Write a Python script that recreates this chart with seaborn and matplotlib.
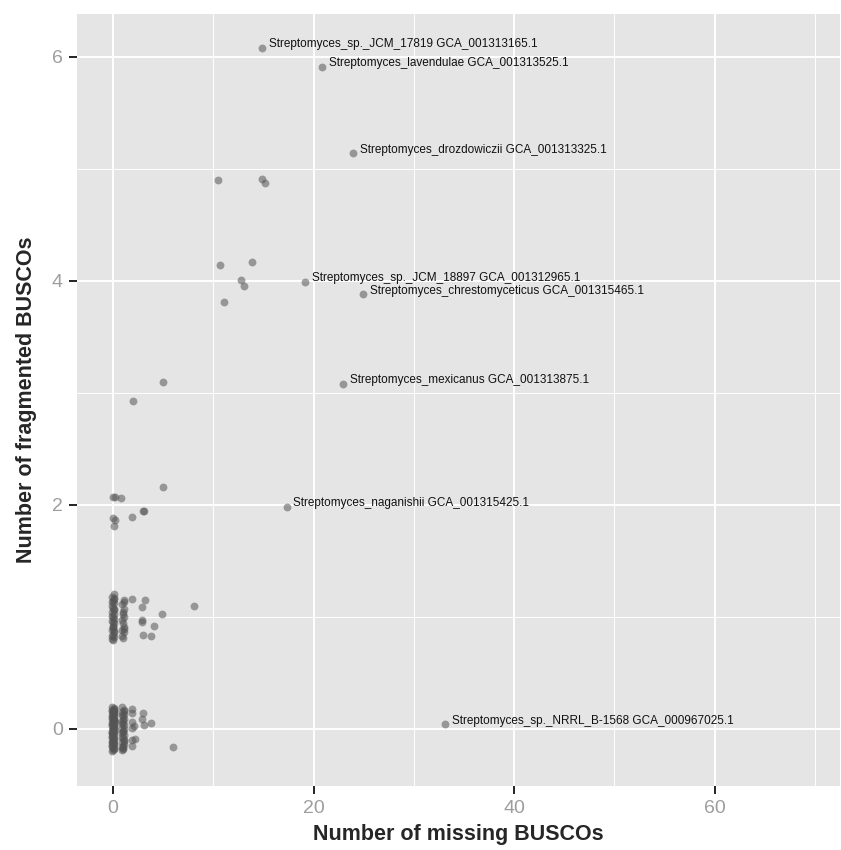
import pandas as pd
import matplotlib
matplotlib.use("Agg")
import matplotlib.pyplot as plt
import seaborn as sns
from matplotlib.ticker import MultipleLocator

# labelled genomes
lab_names = [
    "Streptomyces_sp._JCM_17819 GCA_001313165.1",
    "Streptomyces_lavendulae GCA_001313525.1",
    "Streptomyces_drozdowiczii GCA_001313325.1",
    "Streptomyces_sp._JCM_18897 GCA_001312965.1",
    "Streptomyces_chrestomyceticus GCA_001315465.1",
    "Streptomyces_mexicanus GCA_001313875.1",
    "Streptomyces_naganishii GCA_001315425.1",
    "Streptomyces_sp._NRRL_B-1568 GCA_000967025.1",
]
lab_missing = [14.9, 20.8, 23.9, 19.1, 24.9, 22.9, 17.3, 33.1]
lab_frag = [6.08, 5.91, 5.14, 3.99, 3.88, 3.08, 1.98, 0.04]

# scattered unlabelled genomes
other_missing = [10.5, 14.9, 15.2, 10.7, 13.9, 12.8, 13.1, 11.1, 5.0, 2.0,
                 0.0, 0.2, 0.8, 5.0, -0.05, 0.15, 0.05, 1.9, 3.0, 3.1,
                 1.9, 3.2, 2.9, 8.1, 4.9, 2.9, 2.9, 4.1, 3.0, 3.8,
                 1.9, 1.9, 1.9, 1.9, 1.9, 1.85, 2.1, 2.2, 3.0, 2.9, 3.1, 3.8, 6.0]
other_frag = [4.90, 4.91, 4.87, 4.14, 4.17, 4.01, 3.95, 3.81, 3.10, 2.93,
              2.07, 2.07, 2.06, 2.16, 1.88, 1.86, 1.81, 1.89, 1.94, 1.94,
              1.16, 1.15, 1.09, 1.10, 1.02, 0.97, 0.95, 0.92, 0.84, 0.83,
              0.18, 0.14, 0.06, 0.01, -0.10, -0.15, 0.02, -0.09, 0.14, 0.09, 0.03, 0.05, -0.16]

# dense jittered columns: 0 missing / 0 fragmented
c00_missing = [-0.12, 0.05, 0.10, -0.08, 0.14, -0.03, 0.08, -0.15, 0.02, 0.12,
               -0.10, 0.06, -0.05, 0.15, -0.13, 0.00, 0.09, -0.07, 0.13, -0.02,
               0.04, -0.14, 0.11, -0.06, 0.07, -0.11, 0.01, 0.14, -0.09, 0.03,
               -0.04, 0.12, -0.12, 0.06, 0.10, -0.01,
               0.09, -0.15, 0.03, 0.13, -0.06, 0.00, 0.11, -0.12, 0.07, -0.03,
               0.15, -0.09, 0.04, -0.14, 0.10, -0.01, 0.12, -0.07, 0.02, -0.11,
               0.08, -0.04, 0.14, -0.13]
c00_frag = [0.19, 0.18, 0.17, 0.16, 0.15, 0.14, 0.13, 0.12, 0.11, 0.10,
            0.09, 0.08, 0.07, 0.06, 0.05, 0.04, 0.03, 0.02, 0.01, 0.00,
            -0.01, -0.02, -0.03, -0.04, -0.06, -0.07, -0.08, -0.09, -0.11, -0.12,
            -0.13, -0.14, -0.15, -0.17, -0.18, -0.19,
            0.185, 0.165, 0.145, 0.125, 0.105, 0.085, 0.065, 0.045, 0.025, 0.005,
            -0.015, -0.035, -0.055, -0.075, -0.095, -0.115, -0.135, -0.155, -0.175, -0.195,
            0.155, -0.045, 0.075, -0.125]
# 1 missing / 0 fragmented
c10_missing = [0.92, 1.05, 0.85, 1.12, 0.95, 1.08, 0.88, 1.00, 1.14, 0.90,
               1.03, 0.86, 1.10, 0.97, 1.06, 0.89, 1.13, 0.94, 1.01, 0.87,
               1.09, 0.93, 1.04, 0.86, 1.11, 0.98, 0.91, 1.07, 0.95, 1.02]
c10_frag = [0.19, 0.17, 0.15, 0.13, 0.11, 0.09, 0.07, 0.05, 0.03, 0.01,
            -0.02, -0.04, -0.06, -0.08, -0.10, -0.12, -0.14, -0.16, -0.18, -0.19,
            0.16, 0.12, 0.08, 0.04, 0.00, -0.03, -0.07, -0.11, -0.15, -0.17]
# 0 missing / 1 fragmented
c01_missing = [0.05, -0.10, 0.12, -0.04, 0.08, -0.13, 0.02, 0.14, -0.07, 0.10,
               -0.01, 0.06, -0.12, 0.13, -0.05, 0.03, -0.09, 0.11, -0.02, 0.07,
               -0.14, 0.00, 0.09, -0.06, 0.13, -0.11, 0.04, -0.03, 0.10, -0.08]
c01_frag = [1.20, 1.18, 1.16, 1.14, 1.12, 1.10, 1.08, 1.06, 1.04, 1.02,
            1.00, 0.98, 0.96, 0.94, 0.92, 0.90, 0.88, 0.86, 0.84, 0.82,
            0.80, 0.79, 1.17, 1.13, 1.07, 1.01, 0.95, 0.91, 0.87, 0.83]
# 1 missing / 1 fragmented
c11_missing = [1.05, 0.92, 1.10, 0.96, 1.14, 0.88, 1.02, 1.08, 0.94, 1.12,
               0.90, 1.00, 1.06, 0.97, 1.09]
c11_frag = [1.15, 1.11, 1.07, 1.04, 1.00, 0.97, 0.94, 0.91, 0.88, 0.86,
            0.83, 0.81, 1.13, 1.02, 0.89]

df = pd.DataFrame({
    "missing": lab_missing + other_missing + c00_missing + c10_missing + c01_missing + c11_missing,
    "fragmented": lab_frag + other_frag + c00_frag + c10_frag + c01_frag + c11_frag,
})

sns.set_style("darkgrid", {"axes.facecolor": "#e5e5e5", "grid.color": "white"})
plt.rcParams["font.family"] = ["Liberation Sans", "DejaVu Sans"]

fig = plt.figure(figsize=(8.41, 8.50), dpi=100)
ax = fig.add_axes([0.0912, 0.0756, 0.9078, 0.9079])

sns.scatterplot(data=df, x="missing", y="fragmented", color="#555555", alpha=0.55,
                s=32, linewidth=0, ax=ax)

for name, mx, fy in zip(lab_names, lab_missing, lab_frag):
    ax.annotate(name, (mx, fy), xytext=(5, 2.5), textcoords="offset points",
                ha="left", va="center", fontsize=8.5, color="#111111")

ax.set_xlim(-3.62, 72.5)
ax.set_ylim(-0.509, 6.381)
ax.xaxis.set_major_locator(MultipleLocator(20))
ax.xaxis.set_minor_locator(MultipleLocator(10))
ax.yaxis.set_major_locator(MultipleLocator(2))
ax.yaxis.set_minor_locator(MultipleLocator(1))
ax.grid(which="major", color="white", linewidth=1.4)
ax.grid(which="minor", color="white", linewidth=0.7)
ax.set_axisbelow(True)
for sp in ax.spines.values():
    sp.set_visible(False)

ax.tick_params(which="major", length=6, width=1.4, color="#222222", direction="out",
               labelsize=14, labelcolor="#9e9e9e", pad=4)
ax.tick_params(which="minor", length=0)
ax.tick_params(axis="x", bottom=True)
ax.tick_params(axis="y", left=True)

ax.set_xlabel("Number of missing BUSCOs", fontsize=15.5, fontweight="bold", labelpad=5)
ax.set_ylabel("Number of fragmented BUSCOs", fontsize=15.5, fontweight="bold", labelpad=11)

fig.savefig("out.png", dpi=100)
